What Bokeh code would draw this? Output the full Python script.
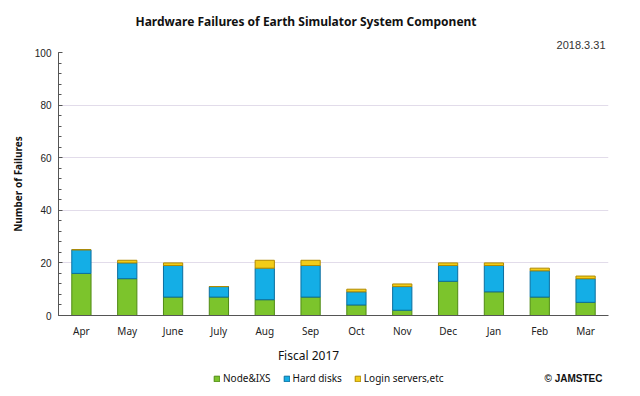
from bokeh.plotting import figure
from bokeh.layouts import column
from bokeh.models import (ColumnDataSource, Range1d, FixedTicker, Label, Legend,
                          LegendItem, Title)
from bokeh.embed import file_html
from bokeh.resources import INLINE

months = ["Apr", "May", "June", "July", "Aug", "Sep", "Oct", "Nov", "Dec", "Jan", "Feb", "Mar"]
node_ixs = [16, 14, 7, 7, 6, 7, 4, 2, 13, 9, 7, 5]
hard_disks = [9, 6, 12, 4, 12, 12, 5, 9, 6, 10, 10, 9]
login_servers = [0, 1, 1, 0, 3, 2, 1, 1, 1, 1, 1, 1]
series = ["Node&IXS", "Hard disks", "Login servers,etc"]
y_ticks = [0, 20, 40, 60, 80, 100]

fills = ["#7cc42c", "#14aee6", "#f2cc18"]
edges = ["#4f8a14", "#0b6e9e", "#b08a00"]

src = ColumnDataSource(dict(month=months, node=node_ixs, hd=hard_disks, login=login_servers))

W = 632
FL, FR = 58, 608  # frame left / right in page pixels
p = figure(x_range=months, y_range=Range1d(0, 100), width=W, height=340,
           output_backend="svg", toolbar_location=None,
           min_border_left=FL, min_border_right=W - FR, min_border_top=52, min_border_bottom=23)
p.background_fill_color = "white"
p.border_fill_color = "white"
p.outline_line_color = None

p.title.text = "Hardware Failures of Earth Simulator System Component"
p.title.align = "left"
p.title.offset = 77
p.title.text_font = "Noto Sans"
p.title.text_font_size = "12px"
p.title.text_font_style = "bold"
p.title.text_color = "#111111"

p.add_layout(Title(text="2018.3.31", align="right", offset=3, text_font="Liberation Sans",
                   text_font_size="11px", text_font_style="normal", text_color="#333333",
                   standoff=8), "above")

rs = p.vbar_stack(["node", "hd", "login"], x="month", width=0.42, source=src,
                  fill_color=fills, line_color=edges, line_width=1)

p.xgrid.grid_line_color = None
p.ygrid.grid_line_color = "#e2dcea"
p.ygrid.grid_line_width = 1

ya = p.yaxis[0]
ya.ticker = FixedTicker(ticks=y_ticks, minor_ticks=list(range(0, 101, 4)))
ya.major_tick_in = 4
ya.major_tick_out = 0
ya.minor_tick_in = 3
ya.minor_tick_out = 0
ya.axis_line_color = "#555555"
ya.major_tick_line_color = "#555555"
ya.minor_tick_line_color = "#555555"
ya.major_label_text_font = "Liberation Sans"
ya.major_label_text_font_size = "10px"
ya.major_label_text_color = "#222222"
ya.major_label_standoff = 7
ya.axis_label = "Number of Failures"
ya.axis_label_text_font = "Noto Sans"
ya.axis_label_text_font_style = "bold"
ya.axis_label_text_font_size = "10px"
ya.axis_label_text_color = "#111111"
ya.axis_label_standoff = 7

xa = p.xaxis[0]
xa.major_tick_in = 0
xa.major_tick_out = 0
xa.minor_tick_line_color = None
xa.axis_line_color = "#555555"
xa.major_label_text_font = "Noto Sans"
xa.major_label_text_font_size = "10px"
xa.major_label_text_color = "#222222"
xa.major_label_standoff = 8

# bottom strip: axis title, legend and credit (x data units = page pixels)
q = figure(width=W, height=48, x_range=Range1d(FL, FR), y_range=Range1d(0, 48),
           output_backend="svg", toolbar_location=None,
           x_axis_location=None, y_axis_location=None,
           min_border_left=FL, min_border_right=W - FR, min_border_top=0, min_border_bottom=0)
q.grid.visible = False
q.outline_line_color = None
q.background_fill_color = "white"
q.border_fill_color = "white"

nan = float("nan")
key_src = ColumnDataSource(dict(left=[nan], right=[nan], top=[nan], bottom=[nan]))
key_rs = [q.quad(left="left", right="right", top="top", bottom="bottom", source=key_src,
                 fill_color=f, line_color=e) for f, e in zip(fills, edges)]

q.add_layout(Label(x=308, y=33, text="Fiscal 2017", text_font="Noto Sans",
                   text_font_size="12px", text_align="center", text_baseline="middle",
                   text_color="#111111"))
q.add_layout(Label(x=544, y=10, text="© JAMSTEC", text_font="Liberation Sans",
                   text_font_style="bold", text_font_size="10px", text_align="left",
                   text_baseline="middle", text_color="#111111"))

legend = Legend(items=[LegendItem(label=s, renderers=[r]) for s, r in zip(series, key_rs)],
                location=(155, 3), orientation="horizontal",
                glyph_width=7, glyph_height=7, label_standoff=3, spacing=12,
                label_text_font="Noto Sans", label_text_font_size="10px",
                label_text_color="#111111", border_line_color=None,
                background_fill_alpha=0, padding=2, margin=0)
q.add_layout(legend)

layout = column(p, q, spacing=0)
open("out.html", "w").write(file_html(layout, INLINE))
